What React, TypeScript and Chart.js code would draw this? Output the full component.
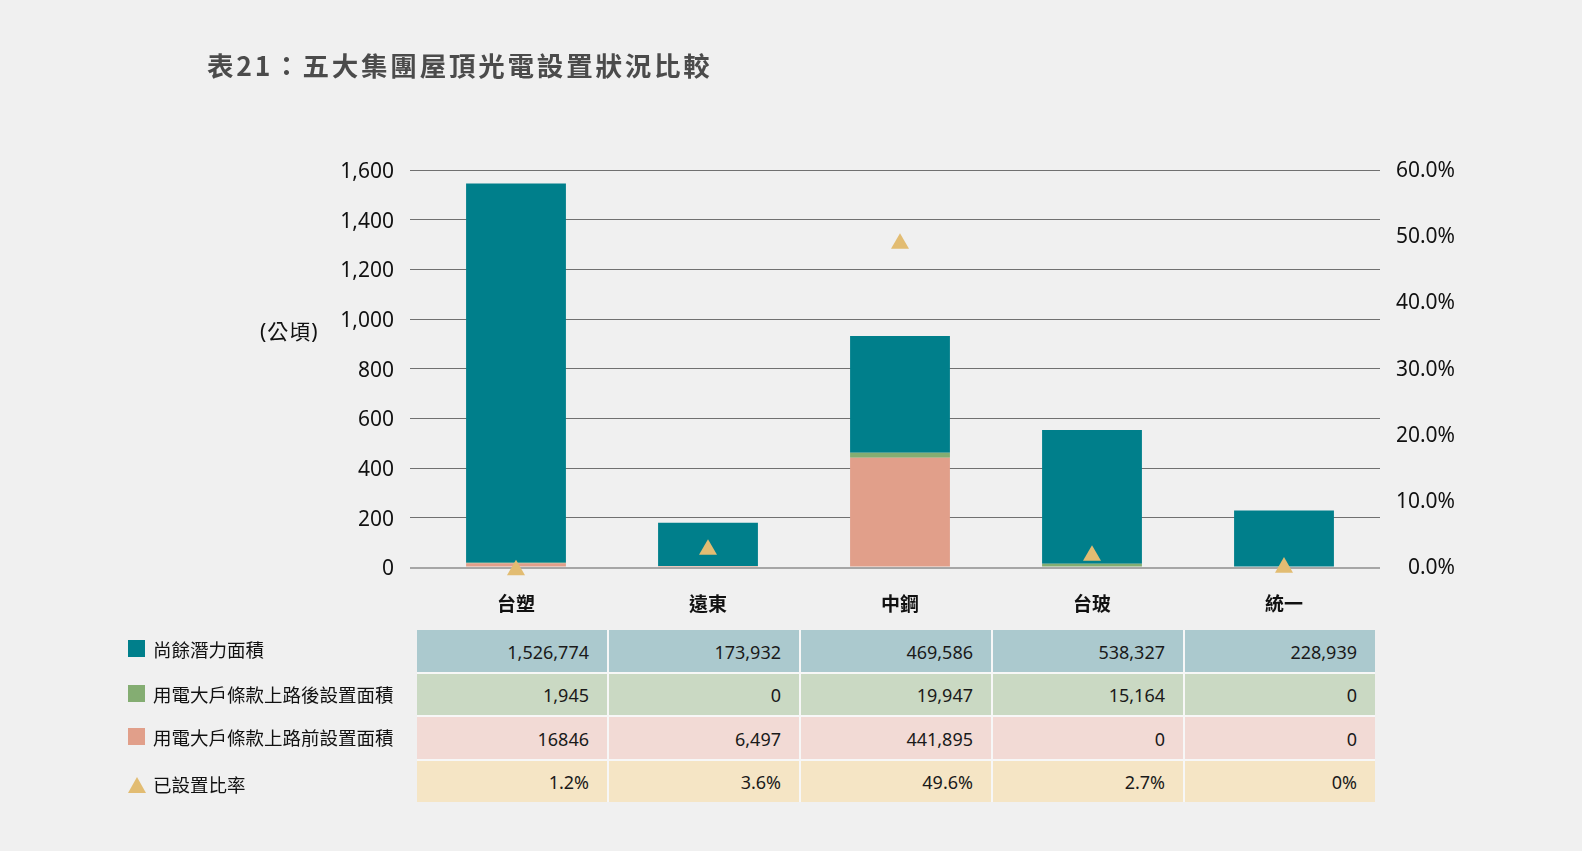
import React, { useEffect, useRef } from "react";
import { Chart, registerables } from "chart.js";

Chart.register(...registerables);

const TITLE = "表21：五大集團屋頂光電設置狀況比較";
const UNIT_LABEL = "(公頃)";
const categories = ["台塑", "遠東", "中鋼", "台玻", "統一"];

// values in 公頃 (table values / 1000)
const remainingPotential = [1526.774, 173.932, 469.586, 538.327, 228.939];
const afterRuleInstalled = [1.945, 0, 19.947, 15.164, 0];
const beforeRuleInstalled = [16.846, 6.497, 441.895, 0, 0];
// installed ratio (%)
const installedRatio = [-0.4, 2.7, 48.9, 1.8, 0.0];

const seriesNames = ["尚餘潛力面積", "用電大戶條款上路後設置面積", "用電大戶條款上路前設置面積", "已設置比率"];

// table text rows
const tableRemaining = ["1,526,774", "173,932", "469,586", "538,327", "228,939"];
const tableAfter = ["1,945", "0", "19,947", "15,164", "0"];
const tableBefore = ["16846", "6,497", "441,895", "0", "0"];
const tableRatio = ["1.2%", "3.6%", "49.6%", "2.7%", "0%"];

const leftTicksMax = 1600;
const leftStep = 200;
const rightTicksMax = 60;
const rightStep = 10;

const COLORS = {
  teal: "#007f8b",
  green: "#84ad72",
  pink: "#e19f8a",
  gold: "#e2bc72",
  rowTeal: "#abc9ce",
  rowGreen: "#cad9c3",
  rowPink: "#f2dad5",
  rowGold: "#f5e5c5",
};

const FONT = "'Noto Sans', 'Noto Sans CJK TC', sans-serif";

export default function App() {
  const canvasRef = useRef<HTMLCanvasElement | null>(null);

  useEffect(() => {
    if (!canvasRef.current) return;
    const chart = new Chart(canvasRef.current, {
      type: "bar",
      data: {
        labels: categories,
        datasets: [
          {
            type: "line",
            label: seriesNames[3],
            data: installedRatio,
            yAxisID: "y1",
            showLine: false,
            pointStyle: "triangle",
            pointRadius: 10.4,
            pointBackgroundColor: COLORS.gold,
            pointBorderColor: COLORS.gold,
            pointBorderWidth: 0,
            clip: false as any,
            order: 0,
          } as any,
          {
            label: seriesNames[2],
            data: beforeRuleInstalled,
            backgroundColor: COLORS.pink,
            stack: "s",
            yAxisID: "y",
            order: 1,
          },
          {
            label: seriesNames[1],
            data: afterRuleInstalled,
            backgroundColor: COLORS.green,
            stack: "s",
            yAxisID: "y",
            order: 1,
          },
          {
            label: seriesNames[0],
            data: remainingPotential,
            backgroundColor: COLORS.teal,
            stack: "s",
            yAxisID: "y",
            order: 1,
          },
        ],
      },
      options: {
        animation: false,
        responsive: false,
        maintainAspectRatio: false,
        layout: { padding: { top: 170, right: 127, left: 0, bottom: 0 } },
        datasets: {
          bar: { categoryPercentage: 1, barPercentage: 0.52, borderWidth: 0 },
        },
        plugins: {
          legend: { display: false },
          tooltip: { enabled: false },
          title: { display: false },
        },
        scales: {
          x: {
            stacked: true,
            grid: { display: false, drawTicks: false },
            border: { display: false },
            ticks: {
              padding: 27,
              color: "#111",
              font: { family: FONT, size: 19, weight: "bold" },
            },
            afterFit: (s: any) => {
              s.height = 283.5;
            },
          },
          y: {
            stacked: true,
            position: "left",
            min: 0,
            max: leftTicksMax,
            ticks: {
              stepSize: leftStep,
              padding: 16,
              labelOffset: 2,
              color: "#111",
              font: { family: FONT, size: 21 },
              callback: (v: any) => Number(v).toLocaleString("en-US"),
            },
            grid: {
              color: (ctx: any) => (ctx.tick && ctx.tick.value === 0 ? "#a6a6a6" : "#707070"),
              lineWidth: (ctx: any) => (ctx.tick && ctx.tick.value === 0 ? 2 : 1),
              drawTicks: true,
              tickLength: 10,
            },
            border: { display: false },
            afterFit: (s: any) => {
              s.width = 420;
            },
          },
          y1: {
            position: "right",
            min: 0,
            max: rightTicksMax,
            ticks: {
              stepSize: rightStep,
              padding: 15,
              labelOffset: 1,
              crossAlign: "far",
              color: "#111",
              font: { family: FONT, size: 21 },
              callback: (v: any) => Number(v).toFixed(1) + "%",
            },
            grid: { display: false, drawOnChartArea: false },
            border: { display: false },
            afterFit: (s: any) => {
              s.width = 75;
            },
          },
        },
      } as any,
    });
    return () => chart.destroy();
  }, []);

  const tableRows = [
    { values: tableRemaining, color: COLORS.rowTeal },
    { values: tableAfter, color: COLORS.rowGreen },
    { values: tableBefore, color: COLORS.rowPink },
    { values: tableRatio, color: COLORS.rowGold },
  ];

  const legendRows = [
    { name: seriesNames[0], color: COLORS.teal, center: 650, tri: false },
    { name: seriesNames[1], color: COLORS.green, center: 694.5, tri: false },
    { name: seriesNames[2], color: COLORS.pink, center: 738, tri: false },
    { name: seriesNames[3], color: COLORS.gold, center: 785, tri: true },
  ];

  return (
    <div
      style={{
        position: "fixed",
        left: 0,
        top: 0,
        width: 1582,
        height: 851,
        background: "#f0f0f0",
        overflow: "hidden",
        fontFamily: FONT,
      }}
    >
      <canvas ref={canvasRef} width={1582} height={851} style={{ position: "absolute", left: 0, top: 0 }} />
      <div
        style={{
          position: "absolute",
          left: 207,
          top: 51.5,
          fontSize: 26.5,
          lineHeight: "26.5px",
          fontWeight: "bold",
          letterSpacing: 2.8,
          color: "#4b4b4b",
          whiteSpace: "nowrap",
          fontFamily: "'Noto Sans CJK TC', 'Noto Sans', sans-serif",
        }}
      >
        {TITLE}
      </div>
      <div
        style={{
          position: "absolute",
          left: 260,
          top: 319,
          fontSize: 21,
          lineHeight: "25px",
          letterSpacing: 1,
          color: "#111",
          whiteSpace: "nowrap",
        }}
      >
        {UNIT_LABEL}
      </div>

      {legendRows.map((r, i) => (
        <div
          key={i}
          style={{
            position: "absolute",
            left: 128,
            top: r.center - 12,
            height: 24,
            display: "flex",
            alignItems: "center",
            whiteSpace: "nowrap",
          }}
        >
          {r.tri ? (
            <div
              style={{
                width: 0,
                height: 0,
                borderLeft: "9px solid transparent",
                borderRight: "9px solid transparent",
                borderBottom: `16px solid ${r.color}`,
                marginRight: 7,
              }}
            />
          ) : (
            <div style={{ width: 17, height: 17, background: r.color, marginRight: 8, marginTop: -3 }} />
          )}
          <span style={{ fontSize: 18.5, color: "#111", lineHeight: "24px" }}>{r.name}</span>
        </div>
      ))}

      <div
        style={{
          position: "absolute",
          left: 417,
          top: 630,
          width: 958,
          display: "grid",
          gridTemplateColumns: "repeat(5, 190px)",
          gridAutoRows: "41.5px",
          gap: 2,
          background: "#f7f7f7",
        }}
      >
        {tableRows.map((row, ri) =>
          row.values.map((v, ci) => (
            <div
              key={ri + "-" + ci}
              style={{
                background: row.color,
                display: "flex",
                alignItems: "center",
                justifyContent: "flex-end",
                paddingRight: 18,
                fontSize: 18,
                color: "#1a1a1a",
                boxSizing: "border-box",
                paddingTop: 2,
              }}
            >
              {v}
            </div>
          ))
        )}
      </div>
    </div>
  );
}
